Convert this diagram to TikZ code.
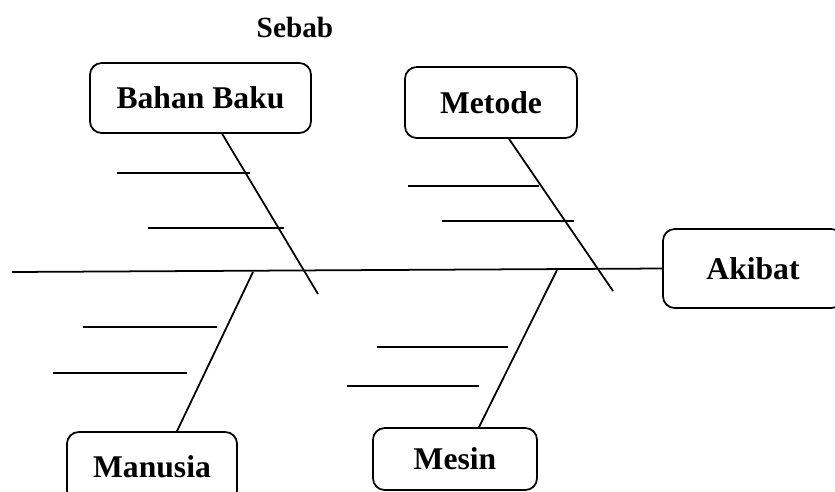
\documentclass[tikz,border=0pt]{standalone}
\usepackage{fontspec}
\setmainfont{Liberation Serif}
\usepackage{tikz}

\begin{document}
\begin{tikzpicture}[x=0.03cm, y=-0.03cm, line width=1.5pt,
  kotak/.style={draw, rounded corners=10pt, inner sep=0pt,
    font=\bfseries\fontsize{27}{32}\selectfont}]
\useasboundingbox (0,0) rectangle (835,491);
\coordinate (ekor) at (12,272);
\coordinate (ujungB) at (318,294);
\coordinate (ujungT) at (613,291);
\coordinate (pangkalU) at (253,272);
\coordinate (pangkalS) at (557,270);
\node[font=\bfseries\fontsize{25}{30}\selectfont, anchor=base] (sebab) at (295,37) {Sebab};
\node[kotak, minimum width=6.63cm, minimum height=2.1cm] (bahan) at (200.5,98) {Bahan Baku};
\node[kotak, minimum width=5.16cm, minimum height=2.13cm] (metode) at (491,102.5) {Metode};
\node[kotak, minimum width=5.4cm, minimum height=2.37cm] (akibat) at (753,268.5) {Akibat};
\node[kotak, minimum width=5.1cm, minimum height=2.1cm] (manusia) at (152,467) {Manusia};
\node[kotak, minimum width=4.92cm, minimum height=1.86cm] (mesin) at (455,459) {Mesin};
% tulang utama
\draw (ekor) -- (akibat.west);
\draw ([xshift=0.65cm]bahan.south) -- (ujungB);
\draw ([xshift=0.54cm]metode.south) -- (ujungT);
\draw (pangkalU) -- ([xshift=0.75cm]manusia.north);
\draw (pangkalS) -- ([xshift=0.72cm]mesin.north);
% sub sebab
\draw (117,173) -- (250,173);
\draw (148,228) -- (284,228);
\draw (408,186) -- (539,186);
\draw (442,221) -- (574,221);
\draw (83,327) -- (217,327);
\draw (53,373) -- (187,373);
\draw (377,347) -- (508,347);
\draw (347,386) -- (479,386);
\end{tikzpicture}
\end{document}
